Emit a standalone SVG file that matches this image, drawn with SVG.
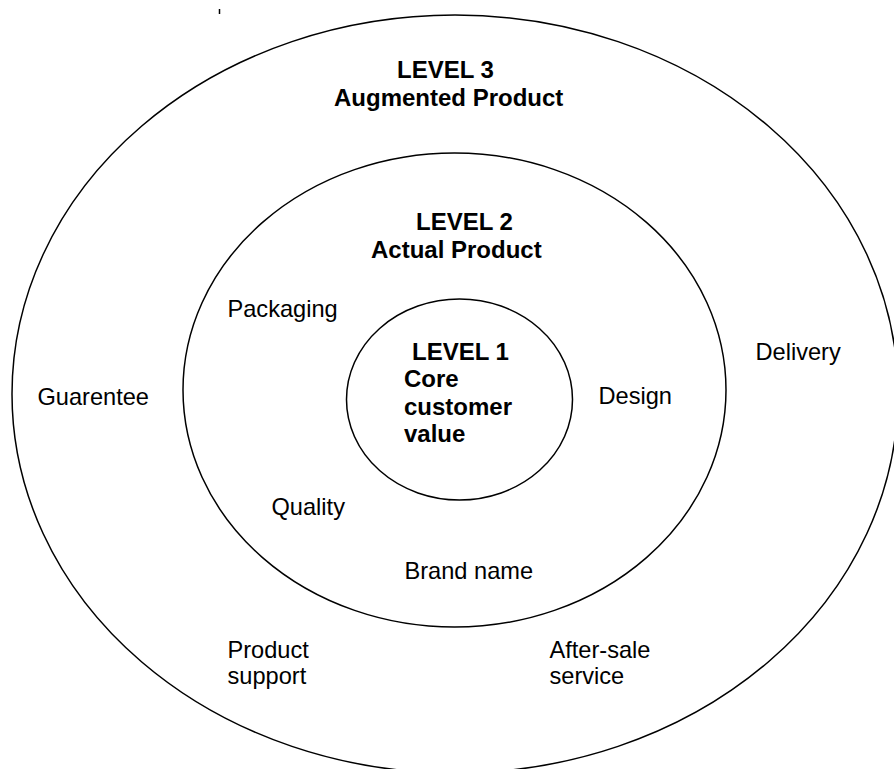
<svg xmlns="http://www.w3.org/2000/svg" width="894" height="769" viewBox="0 0 894 769">
  <style>
    .ring { fill: none; stroke: #000; stroke-width: 1.5; }
    .t { font-family: "Liberation Sans", Arial, sans-serif; font-size: 23.6px; fill: #000; }
    .b { font-weight: bold; font-size: 24px; }
  </style>
  <rect x="0" y="0" width="894" height="769" fill="#fff"/>
  <line x1="219.5" y1="9" x2="219.5" y2="14" stroke="#000" stroke-width="1.5"/>
  <g id="connectors"/>
  <g id="level3">
    <ellipse class="ring" cx="455" cy="394" rx="443" ry="379"/>
    <text class="t b" x="397" y="78">LEVEL 3</text>
    <text class="t b" x="334" y="106">Augmented Product</text>
  </g>
  <g id="level2">
    <ellipse class="ring" cx="454.5" cy="390" rx="271.5" ry="237"/>
    <text class="t b" x="416" y="230">LEVEL 2</text>
    <text class="t b" x="371" y="258">Actual Product</text>
  </g>
  <g id="level1">
    <ellipse class="ring" cx="459.5" cy="399.5" rx="113" ry="100.5"/>
    <text class="t b" x="412" y="360">LEVEL 1</text>
    <text class="t b" x="404" y="387">Core</text>
    <text class="t b" x="404" y="415">customer</text>
    <text class="t b" x="404" y="442">value</text>
  </g>
  <g id="packaging"><text class="t" x="227.5" y="317">Packaging</text></g>
  <g id="design"><text class="t" x="598.5" y="404">Design</text></g>
  <g id="quality"><text class="t" x="271.5" y="515">Quality</text></g>
  <g id="brand-name"><text class="t" x="404.5" y="579">Brand name</text></g>
  <g id="guarentee"><text class="t" x="37.5" y="405">Guarentee</text></g>
  <g id="delivery"><text class="t" x="755.5" y="360">Delivery</text></g>
  <g id="product-support"><text class="t" x="227.5" y="658">Product</text><text class="t" x="227.5" y="684">support</text></g>
  <g id="after-sale-service"><text class="t" x="549.5" y="658">After-sale</text><text class="t" x="549.5" y="684">service</text></g>
</svg>
